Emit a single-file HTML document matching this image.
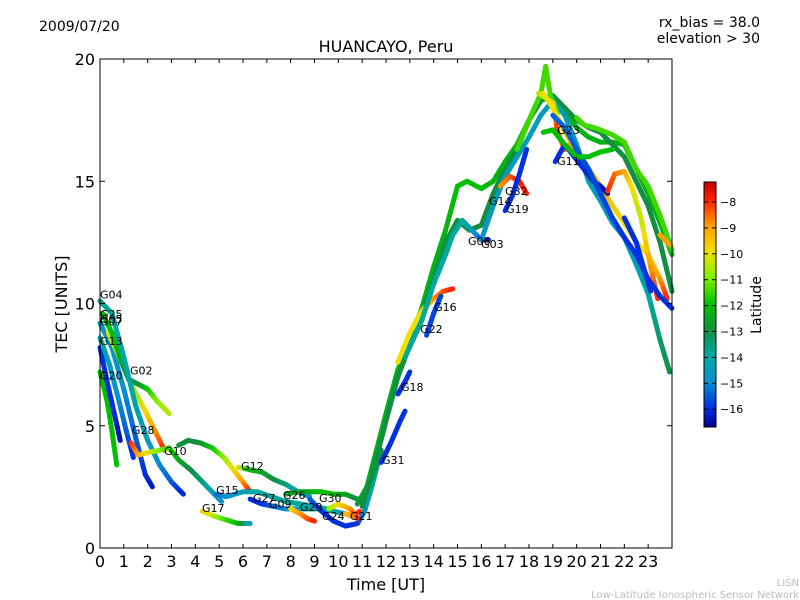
<!DOCTYPE html>
<html><head><meta charset="utf-8"><style>
html,body{margin:0;padding:0;background:#fff;}
svg{display:block;font-family:"DejaVu Sans","Liberation Sans",sans-serif;}
</style></head><body>
<svg id="chart" width="800" height="600" viewBox="0 0 800 600" xmlns="http://www.w3.org/2000/svg">
<defs>
<linearGradient id="cbg" x1="0" y1="1" x2="0" y2="0">
<stop offset="0" stop-color="#00008b"/><stop offset="0.08" stop-color="#0030e0"/><stop offset="0.185" stop-color="#0a90d0"/><stop offset="0.29" stop-color="#00a8a0"/><stop offset="0.396" stop-color="#109040"/><stop offset="0.5" stop-color="#00c000"/><stop offset="0.608" stop-color="#80f000"/><stop offset="0.714" stop-color="#f0e000"/><stop offset="0.82" stop-color="#ffa000"/><stop offset="0.926" stop-color="#ff2000"/><stop offset="1" stop-color="#c00000"/>
</linearGradient>
</defs>
<text x="39" y="31" font-size="14">2009/07/20</text>
<text x="760" y="27" font-size="14" text-anchor="end">rx_bias = 38.0</text>
<text x="760" y="43" font-size="14" text-anchor="end">elevation &gt; 30</text>
<text x="386" y="52" font-size="16" text-anchor="middle">HUANCAYO, Peru</text>
<text x="386" y="590" font-size="16" text-anchor="middle">Time [UT]</text>
<text x="67" y="304" font-size="16" text-anchor="middle" transform="rotate(-90 67 304)">TEC [UNITS]</text>
<text x="799" y="586" font-size="10" fill="#bbb" text-anchor="end">LISN</text>
<text x="799" y="598" font-size="10" fill="#bbb" text-anchor="end">Low-Latitude Ionospheric Sensor Network</text>
<g id="arcs"></g>
<g id="labels"></g>
<g id="axes"></g>
<rect x="100" y="59" width="572" height="489" fill="none" stroke="#000" stroke-width="1"/>
<g id="cbar">
<rect x="704" y="182" width="12" height="245" fill="url(#cbg)" stroke="#000" stroke-width="1"/>
<text x="761" y="305" font-size="14" text-anchor="middle" transform="rotate(-90 761 305)">Latitude</text>
</g>
</svg>
<script>
const xTicks=[0,1,2,3,4,5,6,7,8,9,10,11,12,13,14,15,16,17,18,19,20,21,22,23];
const yTicks=[0,5,10,15,20];
const cbTicks=[-8,-9,-10,-11,-12,-13,-14,-15,-16];
const arcT=[
[0,0.3,0.5,0.7],
[0,0.3,0.6,0.85],
[0,0.4,0.8,1.1,1.4],
[0,0.5,1,1.5,1.9,2.2],
[0.35,0.9,1.4,1.9,2.3,2.7],
[0.1,0.5,0.9,1.2,1.6,2.0,2.4,2.9],
[0,0.5,1,1.5,2,2.5,3,3.5],
[1.3,1.6,2,2.5,2.9,3.3,3.8,4.3,4.8,5.1],
[3.3,3.7,4.2,4.7,5.2,5.6,6.0,6.3],
[5.8,6.3,6.8,7.3,7.8,8.3,8.8],
[4.9,5.3,6,6.6,7.2,7.8,8.4,9,9.5],
[4.3,4.8,5.3,5.8,6.3],
[6.3,6.8,7.3,7.8,8.3,8.8,9.3,9.8,10.3,10.6],
[7.8,8.3,8.8,9.3,9.8,10.3,10.8,11.1],
[8,8.4,8.7,9.0],
[8.8,9.3,9.8,10.3,10.8,11.1,11.4,11.8],
[9.6,10,10.5,10.8],
[10.3,10.6,10.9],
[10.8,11.2,11.6,12,12.5,13,13.5,14,14.5,15,15.4,16,16.5,17,17.5,18,18.5,19,19.5,20,20.5,21,21.5,22,22.5,23,23.5,24],
[11,11.5,12,12.5,13,13.5,14,14.5,15,15.5,16,16.5,17,17.5,18,18.5,19,19.5,20,20.5,21,21.5,22,22.5,23,23.5,24],
[11.8,12.2,12.6,12.8],
[12.5,12.8,13],
[12.5,13,13.5,14,14.4,14.8],
[13.7,14,14.3],
[12.8,13.5,14,14.5,14.8,15.2,15.6,16,16.3],
[16,16.5,17,17.5,18,18.5,19,19.5,20,20.5,21,21.5,22,22.5,23,23.5,23.9],
[16.8,17.2,17.6,17.9],
[17,17.3,17.6,17.9],
[17.5,18,18.5,18.7,18.9,19.2],
[18.4,19,19.2,19.5,19.8,20.1],
[18.6,19,19.5,20,20.5,21,21.5,22,22.5,23,23.5,23.8],
[19.1,19.5,19.9,20.3,20.7,21,21.3],
[21.3,21.6,22,22.3,22.7,23.1,23.4],
[19,19.5,20,20.5,21,21.5,22,22.5,23,23.5,24],
[22,22.5,22.8,23.1],
[20,20.3,20.7,21,21.5,22,22.5,23,23.5,24],
[18.6,19,19.5,20,20.5,21,21.5],
[23.5,23.9]
];
const arcV=[
[7.2,6,4.8,3.4],
[8.2,6.8,5.5,4.4],
[8.6,7.5,6,4.8,3.7],
[9.2,8.2,6.5,4.5,3,2.5],
[8.8,7.6,6.5,5.6,4.8,4.0],
[9.6,8.8,7.6,6.9,6.7,6.5,6.0,5.5],
[10.1,9.6,7.8,5.8,4.4,3.4,2.7,2.2],
[4.3,3.8,3.9,4.0,4.1,3.6,3.2,2.7,2.2,1.9],
[4.2,4.4,4.3,4.1,3.7,3.2,2.7,2.3],
[3.3,3.2,3.1,2.8,2.6,2.3,2.1],
[2.2,2.1,2.3,2.3,2.1,1.9,1.8,1.7,1.6],
[1.5,1.3,1.15,1.0,1.0],
[2.0,1.8,1.7,1.6,1.6,1.6,1.6,1.5,1.4,1.3],
[2.2,2.3,2.3,2.3,2.2,2.2,2.0,1.8],
[1.6,1.4,1.2,1.1],
[2.0,1.5,1.1,0.9,1.0,1.5,2.5,4.0],
[1.6,1.8,1.6,1.2],
[1.4,1.3,1.5],
[1.8,2.5,4,5.5,7.3,8.5,9.8,11.5,13,14.8,15,14.7,15,15.8,16.5,17.5,18.4,18.3,17.8,17.2,16.8,16.6,16.6,16.5,15.5,14.5,13.3,12],
[1.7,3.3,5.2,7,8.3,9.5,11,12.5,13.4,13,13.2,14.5,15.5,16.3,17.5,18.3,18.5,18,17.5,17.2,17,16.5,16,15,14,12.5,10.5],
[3.5,4.3,5.2,5.6],
[6.3,6.8,7.2],
[7.6,8.8,9.7,10.2,10.5,10.6],
[8.7,9.6,10.3],
[7.8,9.3,10.8,12,12.8,13.4,13.0,12.6,12.6],
[12.6,14,15.2,16,16.8,17.7,18.3,17.7,16.5,15,14.2,13.3,12.7,11.6,10.4,8.5,7.2],
[14.8,15.2,15,14.5],
[13.8,14.4,15.3,16.3],
[16.3,17.5,18.6,19.7,18.5,17.8],
[18.6,18.2,17,16.3,16.6,15.8],
[18.6,18,17,16.3,15.5,14.8,14,13.3,12.5,12,11,10.2],
[15.8,16.5,16,15.5,15,14.8,14.5],
[14.6,15.3,15.4,14.8,13.5,11.5,10.2],
[17.7,17.2,16.3,15.5,14.5,13.5,12.7,12,11,10.3,9.8],
[13.5,12.5,11.5,10.5],
[17.6,17.3,17.2,17.1,16.9,16.6,15.5,14.8,13.6,12.2],
[17,17.1,16.5,16,16,16.2,16.3],
[12.8,12.4]
];
const arcL=[
[-12,-12,-12,-12],
[-16,-16,-16,-16.5],
[-14,-14.5,-15,-15.5,-16],
[-14.5,-14.8,-15,-15.5,-16,-16.3],
[-10,-11,-11,-10,-9,-8],
[-12,-12,-12.5,-13,-13,-12,-11,-10.5],
[-13.5,-14,-14,-14.2,-14.5,-15,-15.5,-16.2],
[-8,-9,-10,-11,-11.5,-12.5,-13,-13.5,-14.5,-15],
[-13,-13,-13,-12,-11,-10,-9,-8],
[-10,-12,-12.5,-13,-13.5,-14.5,-15],
[-15.5,-15,-14.5,-14,-14,-14,-14,-14,-13.5],
[-9.5,-10.5,-11.5,-12,-14.5],
[-16,-16,-15.5,-15,-14.5,-14,-14,-14,-14.5,-15],
[-12.5,-12.5,-12.5,-12,-12,-12.5,-13,-14],
[-10,-9,-8.5,-8],
[-15.5,-16,-16,-16,-16,-15,-14,-13],
[-11,-10,-9,-8],
[-9.5,-9,-8],
[-13,-12.5,-12.3,-12.3,-12.3,-12.3,-12.3,-12.3,-12.3,-12,-12,-12,-12.3,-12.3,-12.3,-12.3,-12.3,-12.3,-12.3,-12.3,-12.3,-12.3,-12.3,-12.3,-12.3,-12.3,-12.3,-12.3],
[-13,-13,-13,-13,-13,-13,-13,-13,-13,-13,-13,-13,-13,-13,-13,-13,-13,-13,-13,-13,-13,-13,-13,-13,-13,-13,-13],
[-16,-16,-16,-16],
[-16,-16,-16],
[-10,-10,-10,-9,-8.5,-8],
[-15.8,-15.8,-15.8],
[-14,-14,-14,-14,-14,-14,-14.5,-15.5,-16.5],
[-15,-14.5,-14.5,-14.5,-14.5,-14.5,-14.5,-14.5,-14.5,-14.5,-14.5,-14.5,-14.5,-14.5,-14,-13.5,-13],
[-9,-8.5,-8,-8],
[-16,-16,-16,-16],
[-11.5,-11.5,-11.5,-11.5,-11.5,-11.5],
[-10.5,-10,-8,-8.5,-9,-8],
[-10,-10,-10,-9.5,-9.5,-9.5,-9.5,-10,-10,-10,-9,-8],
[-16,-16,-16,-16,-16.3,-16.3,-16.5],
[-8,-8.5,-9,-10,-10.5,-9,-8],
[-15.5,-15.5,-15.5,-15.7,-15.8,-15.8,-16,-16,-16,-16,-16],
[-16,-16,-16,-16],
[-11.5,-11.5,-11.5,-11.5,-11.5,-11.5,-11.5,-11.5,-11.5,-11.5],
[-12,-12,-12,-12,-12,-12,-12],
[-9,-9]
];
const labNames=["G04","G25","G05","G07","G13","G20","G02","G28","G10","G12","G15","G17","G27","G09","G26","G29","G30","G24","G21","G31","G18","G22","G16","G06","G03","G14","G32","G19","G23","G11"];
const labT=[0,0,0,0,0,0,1.26,1.34,2.69,5.92,4.87,4.28,6.42,7.09,7.68,8.39,9.19,9.32,10.49,11.83,12.63,13.43,14.02,15.44,15.99,16.32,17.0,17.04,19.18,19.18];
const labV=[10.2,9.4,9.2,9.1,8.3,6.9,7.1,4.66,3.8,3.19,2.21,1.47,1.88,1.64,2.0,1.51,1.88,1.15,1.15,3.44,6.42,8.79,9.69,12.39,12.27,14.03,14.44,13.7,16.93,15.66];

const X0=100,X1=672,Y0=548,Y1=59;
function xs(t){return X0+(X1-X0)*t/24;}
function ys(v){return Y0-(Y0-Y1)*v/20;}
const cStops=[[-16.75,[0,0,139]],[-16,[0,48,224]],[-15,[10,144,208]],[-14,[0,168,160]],[-13,[16,144,64]],[-12,[0,192,0]],[-11,[128,240,0]],[-10,[240,224,0]],[-9,[255,160,0]],[-8,[255,32,0]],[-7.3,[192,0,0]]];
function col(l){
  if(l<=cStops[0][0])return 'rgb('+cStops[0][1].join(',')+')';
  for(let i=1;i<cStops.length;i++){
    if(l<=cStops[i][0]){const a=cStops[i-1],b=cStops[i];const f=(l-a[0])/(b[0]-a[0]);
      return 'rgb('+a[1].map((c,k)=>Math.round(c+(b[1][k]-c)*f)).join(',')+')';}
  }
  return 'rgb(192,0,0)';
}
const NS='http://www.w3.org/2000/svg';
function mk(tag,attrs,parent){const e=document.createElementNS(NS,tag);for(const k in attrs)e.setAttribute(k,attrs[k]);parent.appendChild(e);return e;}
const arcs=document.getElementById('arcs');
for(let a=0;a<arcT.length;a++){
  const g=mk('g',{},arcs);
  
  
  const T=arcT[a],V=arcV[a],L=arcL[a];
  for(let i=0;i<T.length-1;i++){
    const n=4;
    for(let k=0;k<n;k++){
      const f0=k/n,f1=(k+1)/n;
      const t0=T[i]+(T[i+1]-T[i])*f0,t1=T[i]+(T[i+1]-T[i])*f1;
      const v0=V[i]+(V[i+1]-V[i])*f0,v1=V[i]+(V[i+1]-V[i])*f1;
      const l=L[i]+(L[i+1]-L[i])*(f0+f1)/2;
      const ln=mk('line',{x1:xs(t0),y1:ys(v0),x2:xs(t1),y2:ys(v1),stroke:col(l),'stroke-width':5,'stroke-linecap':'round'},g);
      
      
    }
  }
}
const labs=document.getElementById('labels');
for(let i=0;i<labNames.length;i++){
  const t=mk('text',{x:xs(labT[i]),y:ys(labV[i]),'font-size':11},labs);
  
  
  t.textContent=labNames[i];
}
const axes=document.getElementById('axes');
xTicks.forEach(v=>{
  const x=xs(v);
  mk('line',{x1:x,y1:Y0,x2:x,y2:Y0-4,stroke:'#000'},axes);
  mk('line',{x1:x,y1:Y1,x2:x,y2:Y1+4,stroke:'#000'},axes);
  const t=mk('text',{x:x,y:Y0+19,'font-size':16,'text-anchor':'middle'},axes);
  
  
  t.textContent=v;
});
yTicks.forEach(v=>{
  const y=ys(v);
  mk('line',{x1:X0,y1:y,x2:X0+5,y2:y,stroke:'#000'},axes);
  mk('line',{x1:X1,y1:y,x2:X1-5,y2:y,stroke:'#000'},axes);
  const t=mk('text',{x:X0-5,y:y+6,'font-size':16,'text-anchor':'end'},axes);
  
  
  t.textContent=v;
});
const cb=document.getElementById('cbar');
cbTicks.forEach(v=>{
  const y=202+(-8-v)*25.9;
  mk('line',{x1:704,y1:y,x2:708,y2:y,stroke:'#000'},cb);
  mk('line',{x1:716,y1:y,x2:712,y2:y,stroke:'#000'},cb);
  const t=mk('text',{x:720,y:y+4,'font-size':11},cb);
  
  
  t.textContent='\u2212'+Math.abs(v);
});
</script>
</body></html>
